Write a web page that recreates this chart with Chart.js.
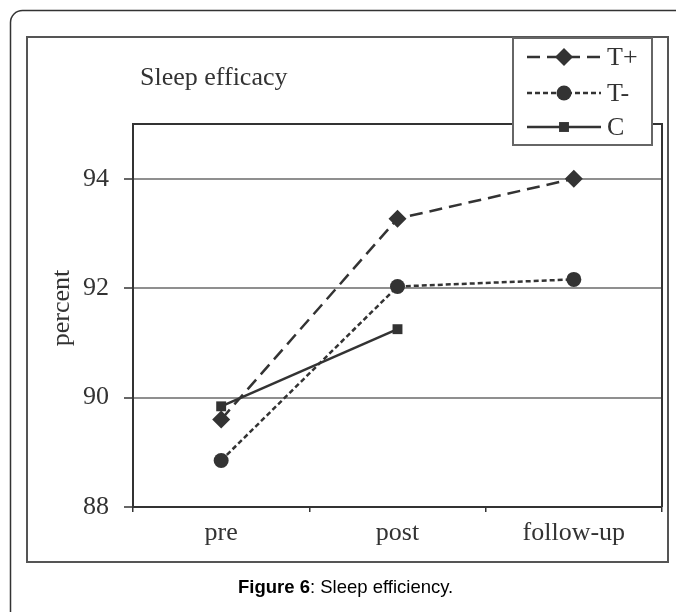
<!DOCTYPE html>
<html>
<head>
<meta charset="utf-8">
<script src="https://cdn.jsdelivr.net/npm/chart.js@4/dist/chart.umd.min.js"></script>
<style>
  html, body { margin: 0; padding: 0; background: #fff; }
  canvas { display: block; }
</style>
</head>
<body>
<canvas id="grafico" width="676" height="612"></canvas>
<script>
// dados
const momentos = ['pre', 'post', 'follow-up'];
const tMais = [89.6, 93.27, 94.0];
const tMenos = [88.85, 92.03, 92.16];
const controle = [89.84, 91.25, null];
const ticksY = [88, 90, 92, 94];

const serif = '"Liberation Serif", "Times New Roman", serif';
const corLinha = '#333333';

// moldura, titulo, rotulo do eixo, legenda e legenda da figura
const molduraPlugin = {
  id: 'moldura',
  beforeDraw(chart) {
    const ctx = chart.ctx;
    ctx.save();
    ctx.fillStyle = '#fff';
    ctx.fillRect(0, 0, chart.width, chart.height);

    // borda externa arredondada
    ctx.strokeStyle = '#333';
    ctx.lineWidth = 1.5;
    ctx.beginPath();
    ctx.roundRect(10.5, 10.5, 720, 720, 12);
    ctx.stroke();

    // caixa do grafico
    ctx.strokeStyle = '#555';
    ctx.lineWidth = 2;
    ctx.strokeRect(27, 37, 641, 525);

    ctx.fillStyle = '#333';
    ctx.font = '26px ' + serif;
    ctx.textAlign = 'left';
    ctx.textBaseline = 'alphabetic';
    ctx.fillText('Sleep efficacy', 140, 85);

    ctx.save();
    ctx.translate(62, 308);
    ctx.rotate(-Math.PI / 2);
    ctx.textAlign = 'center';
    ctx.textBaseline = 'middle';
    ctx.fillText('percent', 0, 0);
    ctx.restore();

    // legenda da figura
    ctx.fillStyle = '#000';
    ctx.font = 'bold 18.5px "Liberation Sans", Arial, sans-serif';
    ctx.fillText('Figure 6', 238, 593);
    const w = ctx.measureText('Figure 6').width;
    ctx.font = '18.5px "Liberation Sans", Arial, sans-serif';
    ctx.fillText(': Sleep efficiency.', 238 + w, 593);
    ctx.restore();
  },
  afterDraw(chart) {
    const ctx = chart.ctx;
    const a = chart.chartArea;
    ctx.save();
    ctx.strokeStyle = '#333';
    ctx.lineWidth = 2;
    ctx.beginPath();
    ctx.moveTo(a.left, a.top);
    ctx.lineTo(a.right, a.top);
    ctx.lineTo(a.right, a.bottom);
    ctx.stroke();

    // caixa da legenda
    ctx.fillStyle = '#fff';
    ctx.fillRect(513, 38, 139, 107);
    ctx.strokeStyle = '#666';
    ctx.strokeRect(513, 38, 139, 107);

    const linhasY = [57, 93, 127];
    chart.data.datasets.forEach((ds, i) => {
      const y = linhasY[i];
      ctx.strokeStyle = ds.borderColor;
      ctx.lineWidth = ds.borderWidth;
      ctx.setLineDash(ds.borderDash || []);
      ctx.beginPath();
      ctx.moveTo(527, y);
      ctx.lineTo(601, y);
      ctx.stroke();
      ctx.setLineDash([]);
      ctx.fillStyle = ds.pointBackgroundColor;
      Chart.helpers.drawPoint(ctx, {
        pointStyle: ds.pointStyle,
        radius: ds.pointRadius,
        rotation: 0,
        borderWidth: 0
      }, 564, y);
      ctx.fillStyle = '#333';
      ctx.font = '26px ' + serif;
      ctx.textAlign = 'left';
      ctx.textBaseline = 'middle';
      ctx.fillText(ds.label, 607, y + 1);
    });
    ctx.restore();
  }
};

new Chart(document.getElementById('grafico'), {
  type: 'line',
  data: {
    labels: momentos,
    datasets: [
      {
        label: 'T+',
        data: tMais,
        borderColor: corLinha,
        borderWidth: 2.5,
        borderDash: [13, 7],
        pointStyle: 'rectRot',
        pointRadius: 9,
        pointBackgroundColor: corLinha,
        pointBorderColor: corLinha,
        pointBorderWidth: 0
      },
      {
        label: 'T-',
        data: tMenos,
        borderColor: corLinha,
        borderWidth: 2.5,
        borderDash: [5, 3],
        pointStyle: 'circle',
        pointRadius: 7.5,
        pointBackgroundColor: corLinha,
        pointBorderColor: corLinha,
        pointBorderWidth: 0
      },
      {
        label: 'C',
        data: controle,
        borderColor: corLinha,
        borderWidth: 2.5,
        pointStyle: 'rect',
        pointRadius: 7,
        pointBackgroundColor: corLinha,
        pointBorderColor: corLinha,
        pointBorderWidth: 0
      }
    ]
  },
  options: {
    responsive: false,
    animation: false,
    layout: { padding: { left: 27, top: 124, right: 14, bottom: 50 } },
    plugins: {
      legend: { display: false },
      tooltip: { enabled: false }
    },
    scales: {
      x: {
        offset: true,
        afterFit: s => { s.height = 55; },
        border: { color: '#333', width: 2 },
        grid: { drawOnChartArea: false, offset: true, tickLength: 5, color: '#333', lineWidth: 1.5 },
        ticks: { color: '#333', font: { family: serif, size: 26 }, padding: 6, maxRotation: 0 }
      },
      y: {
        min: 88,
        max: 95,
        afterFit: s => { s.width = 106; },
        afterBuildTicks: s => { s.ticks = ticksY.map(v => ({ value: v })); },
        border: { color: '#333', width: 2 },
        grid: {
          color: ctx => (ctx.tick && ctx.tick.value === 88 ? 'rgba(0,0,0,0)' : '#8f8f8f'),
          lineWidth: 2,
          tickLength: 9,
          tickColor: '#333',
          tickWidth: 1.5
        },
        ticks: { color: '#333', font: { family: serif, size: 26 }, padding: 15 }
      }
    }
  },
  plugins: [molduraPlugin]
});
</script>
</body>
</html>
